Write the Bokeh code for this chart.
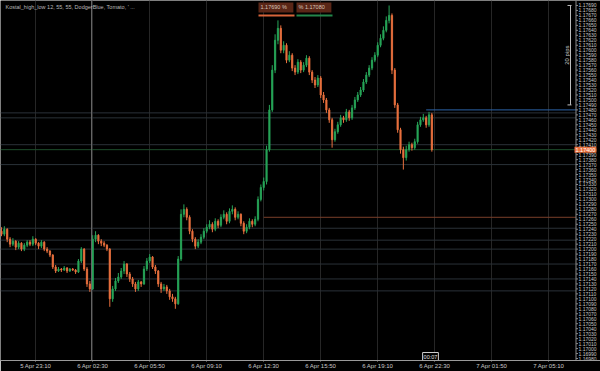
import numpy as np
from bokeh.plotting import figure
from bokeh.models import (Range1d, FixedTicker, Label, Span, BoxAnnotation, ColumnDataSource)
from bokeh.core.properties import value
from bokeh.embed import file_html
from bokeh.resources import INLINE

caption = "Kostal_high_low 12, 55, 55, DodgerBlue, Tomato, ' ..."

opens = [1.17236,1.17230,1.17240,1.17220,1.17210,1.17216,1.17204,1.17212,1.17200,1.17208,
 1.17214,1.17210,1.17220,1.17212,1.17206,1.17214,1.17200,1.17196,1.17188,1.17164,
 1.17156,1.17160,1.17158,1.17162,1.17156,1.17160,1.17158,1.17154,1.17176,1.17200,
 1.17160,1.17130,1.17120,1.17220,1.17228,1.17216,1.17212,1.17208,1.17200,1.17100,
 1.17120,1.17136,1.17144,1.17156,1.17170,1.17150,1.17140,1.17130,1.17120,1.17134,
 1.17130,1.17160,1.17176,1.17184,1.17164,1.17156,1.17130,1.17120,1.17124,1.17116,
 1.17104,1.17100,1.17090,1.17180,1.17270,1.17280,1.17264,1.17236,1.17220,1.17206,
 1.17214,1.17224,1.17236,1.17244,1.17250,1.17240,1.17256,1.17248,1.17264,1.17270,
 1.17256,1.17276,1.17280,1.17264,1.17270,1.17252,1.17236,1.17244,1.17256,1.17250,
 1.17260,1.17300,1.17324,1.17336,1.17400,1.17480,1.17560,1.17620,1.17644,1.17600,
 1.17610,1.17580,1.17590,1.17564,1.17556,1.17576,1.17560,1.17570,1.17584,1.17556,
 1.17540,1.17530,1.17544,1.17510,1.17500,1.17480,1.17460,1.17420,1.17436,1.17450,
 1.17464,1.17460,1.17476,1.17464,1.17484,1.17500,1.17510,1.17520,1.17536,1.17550,
 1.17564,1.17580,1.17590,1.17610,1.17624,1.17640,1.17660,1.17670,1.17560,1.17490,
 1.17440,1.17400,1.17384,1.17400,1.17410,1.17404,1.17416,1.17450,1.17460,1.17464,
 1.17450,1.17470]

closes = [1.17230,1.17240,1.17220,1.17210,1.17216,1.17204,1.17212,1.17200,1.17208,1.17214,
 1.17210,1.17220,1.17212,1.17206,1.17214,1.17200,1.17196,1.17188,1.17164,1.17156,
 1.17160,1.17158,1.17162,1.17156,1.17160,1.17158,1.17154,1.17176,1.17200,1.17160,
 1.17130,1.17120,1.17220,1.17228,1.17216,1.17212,1.17208,1.17200,1.17100,1.17120,
 1.17136,1.17144,1.17156,1.17170,1.17150,1.17140,1.17130,1.17120,1.17134,1.17130,
 1.17160,1.17176,1.17184,1.17164,1.17156,1.17130,1.17120,1.17124,1.17116,1.17104,
 1.17100,1.17090,1.17180,1.17270,1.17280,1.17264,1.17236,1.17220,1.17206,1.17214,
 1.17224,1.17236,1.17244,1.17250,1.17240,1.17256,1.17248,1.17264,1.17270,1.17256,
 1.17276,1.17280,1.17264,1.17270,1.17252,1.17236,1.17244,1.17256,1.17250,1.17260,
 1.17300,1.17324,1.17336,1.17400,1.17480,1.17560,1.17620,1.17644,1.17600,1.17610,
 1.17580,1.17590,1.17564,1.17556,1.17576,1.17560,1.17570,1.17584,1.17556,1.17540,
 1.17530,1.17544,1.17510,1.17500,1.17480,1.17460,1.17420,1.17436,1.17450,1.17464,
 1.17460,1.17476,1.17464,1.17484,1.17500,1.17510,1.17520,1.17536,1.17550,1.17564,
 1.17580,1.17590,1.17610,1.17624,1.17640,1.17660,1.17670,1.17560,1.17490,1.17440,
 1.17400,1.17384,1.17400,1.17410,1.17404,1.17416,1.17450,1.17460,1.17464,1.17450,
 1.17470,1.17400]

highs = [1.17244,1.17246,1.17242,1.17224,1.17222,1.17218,1.17216,1.17214,1.17212,1.17218,
 1.17218,1.17226,1.17222,1.17214,1.17218,1.17216,1.17204,1.17198,1.17190,1.17168,
 1.17164,1.17162,1.17166,1.17164,1.17162,1.17162,1.17160,1.17180,1.17204,1.17202,
 1.17164,1.17136,1.17228,1.17236,1.17230,1.17220,1.17216,1.17210,1.17202,1.17126,
 1.17142,1.17152,1.17162,1.17176,1.17172,1.17154,1.17144,1.17134,1.17138,1.17136,
 1.17166,1.17182,1.17190,1.17186,1.17168,1.17158,1.17134,1.17130,1.17128,1.17120,
 1.17110,1.17104,1.17186,1.17280,1.17290,1.17284,1.17268,1.17240,1.17224,1.17220,
 1.17230,1.17242,1.17250,1.17258,1.17254,1.17262,1.17260,1.17270,1.17278,1.17274,
 1.17282,1.17288,1.17284,1.17276,1.17272,1.17256,1.17250,1.17262,1.17260,1.17266,
 1.17306,1.17330,1.17344,1.17408,1.17490,1.17570,1.17632,1.17660,1.17650,1.17618,
 1.17614,1.17598,1.17594,1.17570,1.17582,1.17580,1.17576,1.17590,1.17588,1.17560,
 1.17546,1.17550,1.17548,1.17516,1.17504,1.17484,1.17464,1.17442,1.17456,1.17470,
 1.17468,1.17482,1.17480,1.17490,1.17506,1.17516,1.17526,1.17542,1.17556,1.17570,
 1.17586,1.17596,1.17616,1.17632,1.17648,1.17668,1.17690,1.17674,1.17564,1.17494,
 1.17444,1.17406,1.17408,1.17416,1.17414,1.17422,1.17456,1.17466,1.17472,1.17468,
 1.17476,1.17474]

lows = [1.17226,1.17226,1.17214,1.17204,1.17206,1.17198,1.17200,1.17196,1.17196,1.17204,
 1.17206,1.17206,1.17208,1.17200,1.17202,1.17196,1.17192,1.17184,1.17160,1.17152,
 1.17154,1.17154,1.17156,1.17152,1.17154,1.17156,1.17150,1.17152,1.17172,1.17156,
 1.17124,1.17114,1.17118,1.17214,1.17210,1.17206,1.17204,1.17196,1.17084,1.17094,
 1.17116,1.17132,1.17140,1.17150,1.17144,1.17134,1.17124,1.17114,1.17116,1.17124,
 1.17128,1.17156,1.17172,1.17160,1.17150,1.17124,1.17112,1.17116,1.17110,1.17098,
 1.17094,1.17080,1.17088,1.17176,1.17264,1.17258,1.17230,1.17214,1.17200,1.17202,
 1.17210,1.17220,1.17232,1.17240,1.17234,1.17236,1.17242,1.17244,1.17260,1.17250,
 1.17252,1.17270,1.17258,1.17260,1.17246,1.17230,1.17232,1.17240,1.17244,1.17246,
 1.17256,1.17296,1.17318,1.17330,1.17396,1.17476,1.17554,1.17612,1.17594,1.17594,
 1.17574,1.17576,1.17558,1.17550,1.17552,1.17554,1.17556,1.17566,1.17550,1.17534,
 1.17524,1.17526,1.17504,1.17494,1.17474,1.17454,1.17404,1.17416,1.17432,1.17446,
 1.17454,1.17456,1.17458,1.17460,1.17480,1.17496,1.17506,1.17516,1.17532,1.17546,
 1.17560,1.17576,1.17586,1.17606,1.17620,1.17636,1.17654,1.17552,1.17484,1.17434,
 1.17392,1.17360,1.17378,1.17396,1.17398,1.17400,1.17412,1.17446,1.17456,1.17444,
 1.17446,1.17396]

# 10-minute bars, first bar = 5 Apr 21:10
time_label_bars = [12, 32, 52, 72, 92, 112, 132, 152, 172, 192]
time_labels = ["5 Apr 23:10", "6 Apr 02:30", "6 Apr 05:50", "6 Apr 09:10", "6 Apr 12:30",
               "6 Apr 15:50", "6 Apr 19:10", "6 Apr 22:30", "7 Apr 01:50", "7 Apr 05:10"]

price_ticks = [round(1.16980 + 0.0001 * k, 5) for k in range(72)]

level_prices = [1.17474, 1.17464, 1.17410, 1.17370, 1.17242, 1.17218, 1.17200,
                1.17170, 1.17140, 1.17116]
blue_level, blue_level_start = 1.17480, 149
tomato_level, tomato_level_start = 1.17264, 92
separator_bar = 31.6
measure_pips = 20
pip = 0.0001
countdown = "00:07"

Y0, Y1 = 1.16976, 1.17700
X0 = -0.35
BPX = 201.75 / 575          # bars per pixel
FH = 362
bx = lambda px: X0 + px * BPX
py = (Y1 - Y0) / FH
X1 = bx(600)
XA = bx(575.5)               # price axis position

FONT = "Liberation Sans"
BULL, BEAR = "#27a558", "#e8703e"

p = figure(width=600, height=371, x_range=Range1d(X0, X1), y_range=Range1d(Y0, Y1),
           output_backend="svg", toolbar_location=None,
           background_fill_color="black", border_fill_color="black",
           min_border_left=0, min_border_top=0, min_border_right=0, min_border_bottom=9,
           outline_line_color=None)
p.yaxis.visible = False

# grid
p.xgrid.ticker = FixedTicker(ticks=time_label_bars)
p.xgrid.grid_line_color = "#262626"
p.ygrid.grid_line_color = None

# levels
p.segment(x0=X0, y0=level_prices, x1=XA, y1=level_prices, line_color="#2a3138", line_width=1)
p.segment(x0=[blue_level_start], y0=[blue_level], x1=[XA], y1=[blue_level],
          line_color="#2c63a8", line_width=1)
p.segment(x0=[tomato_level_start], y0=[tomato_level], x1=[XA], y1=[tomato_level],
          line_color="#7a3f2a", line_width=1)
p.segment(x0=[X0], y0=[closes[-1]], x1=[XA], y1=[closes[-1]], line_color="#1d4d2b", line_width=1)
p.add_layout(Span(location=separator_bar, dimension="height", line_color="#6a6a6a", line_width=1))

# candles
bars = list(range(len(closes)))
colors = [BULL if c >= o else BEAR for o, c in zip(opens, closes)]
src = ColumnDataSource(dict(x=bars, h=highs, l=lows,
                            top=[max(o, c) for o, c in zip(opens, closes)],
                            bot=[min(o, c) for o, c in zip(opens, closes)],
                            color=colors))
p.segment("x", "h", "x", "l", source=src, line_color="color", line_width=1)
p.vbar(x="x", top="top", bottom="bot", width=0.45, fill_color="color",
       line_color="color", line_width=0.8, source=src)

# price axis (drawn on the right)
p.segment(x0=[XA], y0=[Y0], x1=[XA], y1=[Y1], line_color="#8a8a8a", line_width=1)
p.segment(x0=XA, y0=price_ticks, x1=bx(577.5), y1=price_ticks, line_color="#8a8a8a", line_width=1)
p.text(x=bx(578), y=price_ticks, text=[f"{t:.5f}" for t in price_ticks],
       text_font=value(FONT), text_font_size="5px", text_color="#c8c8c8",
       text_align="left", text_baseline="middle")

xax = p.xaxis[0]
xax.ticker = FixedTicker(ticks=time_label_bars)
xax.major_label_overrides = {b: t for b, t in zip(time_label_bars, time_labels)}
xax.major_label_text_font_size = "6px"
xax.major_label_text_font = FONT
xax.major_label_text_color = "#c8c8c8"
xax.axis_line_color = "#9a9a9a"
xax.major_tick_line_color = "#9a9a9a"
xax.major_tick_out = 1
xax.major_tick_in = 0
xax.minor_tick_line_color = None
xax.major_label_standoff = 1

# caption
p.add_layout(Label(x=bx(5), y=Y1 - 7 * py, text=caption, text_font=FONT,
                   text_font_size="5.5px", text_color="#b8b8b8", text_baseline="middle"))

# high / low boxes
day_high, day_low = max(highs), min(lows)
p.add_layout(Label(x=bx(258), y=Y1 - 2 * py, text=f"{day_high:.5f}    %", text_font=FONT,
                   text_font_size="5.5px", text_color="#d8c4b8", text_baseline="top",
                   background_fill_color="#5a2617", padding=2))
p.add_layout(Label(x=bx(296), y=Y1 - 2 * py, text=f"%    {day_low:.5f}", text_font=FONT,
                   text_font_size="5.5px", text_color="#d8c4b8", text_baseline="top",
                   background_fill_color="#5a2617", padding=2))
p.add_layout(BoxAnnotation(left=bx(258), right=bx(294), top=Y1 - 14 * py, bottom=Y1 - 16 * py,
                           fill_color="#d8643a", fill_alpha=1, line_color=None))
p.add_layout(BoxAnnotation(left=bx(296), right=bx(332), top=Y1 - 14 * py, bottom=Y1 - 16 * py,
                           fill_color="#23864a", fill_alpha=1, line_color=None))

# 20 pips measure
m_top, m_bot = day_high, day_high - measure_pips * pip
p.segment(x0=[bx(570)], y0=[m_top], x1=[bx(570)], y1=[m_bot], line_color="#bdbdbd", line_width=1)
p.segment(x0=[bx(567), bx(567)], y0=[m_top, m_bot], x1=[bx(571), bx(571)], y1=[m_top, m_bot],
          line_color="#bdbdbd", line_width=1)
p.text(x=[bx(566)], y=[(m_top + m_bot) / 2], text=[f"{measure_pips} pips"], angle=np.pi / 2,
       text_font=value(FONT), text_font_size="6px", text_color="#c8c8c8",
       text_align="center", text_baseline="middle")

# current price tag
p.add_layout(Label(x=bx(574), y=closes[-1], text=f"{closes[-1]:.5f}", text_font=FONT,
                   text_font_size="5.5px", text_color="white", text_baseline="middle",
                   background_fill_color="#e8703e", padding=1))

# countdown
p.add_layout(Label(x=bx(430), y=Y0 + 4 * py, text=countdown, text_font=FONT,
                   text_font_size="5.5px", text_color="#e0e0e0", text_align="center",
                   text_baseline="middle", background_fill_color="black",
                   border_line_color="#d0d0d0", padding=1))

open("out.html", "w").write(file_html(p, INLINE))
